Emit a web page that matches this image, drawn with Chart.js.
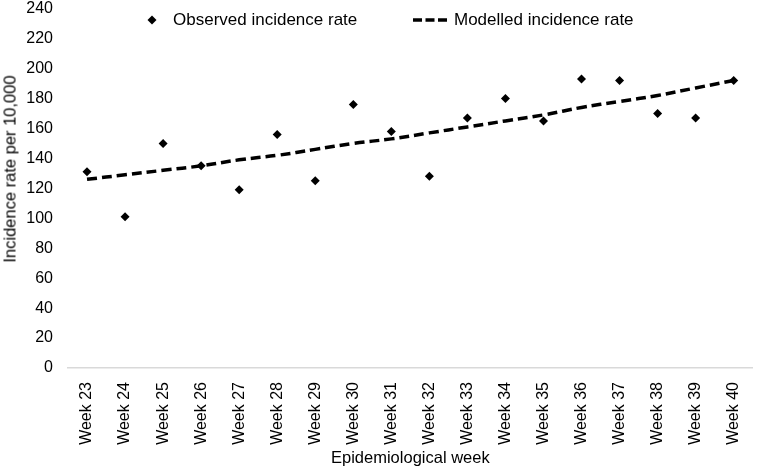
<!DOCTYPE html>
<html>
<head>
<meta charset="utf-8">
<script src="https://cdn.jsdelivr.net/npm/chart.js@4"></script>
<style>
  html, body { margin: 0; padding: 0; background: #fff; }
  #wrap { position: relative; width: 759px; height: 472px; overflow: hidden; }
  #c { position: absolute; left: 0; top: -8px; }
  #legend { position: absolute; top: 9px; left: 0; width: 759px; height: 22px;
    font-family: "Liberation Sans", Arial, sans-serif; font-size: 17px; color: #000; }
  .item { position: absolute; top: 0; display: flex; align-items: center; height: 22px; white-space: nowrap; }
  #ytitle { position: absolute; left: 10px; top: 169px; transform: translate(-50%, -50%) rotate(-90deg);
    font-family: "Liberation Sans", Arial, sans-serif; font-size: 16.5px; color: #000; white-space: nowrap; }
</style>
</head>
<body>
<div id="wrap">
  <canvas id="c" width="759" height="480"></canvas>
  <div id="legend">
    <div class="item" style="left:146px;">
      <svg width="12" height="12" style="margin-right:15px"><polygon points="6,1.5 10.5,6 6,10.5 1.5,6" fill="#000"/></svg>
      <span id="lg1"></span>
    </div>
    <div class="item" style="left:412px;">
      <svg width="36" height="10" style="margin-right:6px"><line x1="1" y1="5" x2="35" y2="5" stroke="#000" stroke-width="3.5" stroke-dasharray="9,3.5"/></svg>
      <span id="lg2"></span>
    </div>
  </div>
  <div id="ytitle"></div>
</div>
<script>
const weeks = ["Week 23","Week 24","Week 25","Week 26","Week 27","Week 28","Week 29","Week 30","Week 31","Week 32","Week 33","Week 34","Week 35","Week 36","Week 37","Week 38","Week 39","Week 40"];
const observed = [131, 101, 150, 135, 119, 156, 125, 176, 158, 128, 167, 180, 165, 193, 192, 170, 167, 192];
const modelled = [126, 129, 132, 135, 139, 142, 146, 150, 153, 157, 161, 165, 169, 174, 178, 182, 187, 192];
const yTicks = { min: 0, max: 240, step: 20 };
const yTitle = "Incidence rate per 10,000";
const xTitle = "Epidemiological week";
const seriesNames = ["Observed incidence rate", "Modelled incidence rate"];

document.getElementById('lg1').textContent = seriesNames[0];
document.getElementById('lg2').textContent = seriesNames[1];
document.getElementById('ytitle').textContent = yTitle;

const FONT = "'Liberation Sans', Arial, sans-serif";
Chart.defaults.font.family = FONT;
Chart.defaults.font.size = 16;
Chart.defaults.color = '#000';

new Chart(document.getElementById('c'), {
  type: 'line',
  data: {
    labels: weeks,
    datasets: [
      {
        label: seriesNames[0],
        data: observed,
        showLine: false,
        pointStyle: 'rectRot',
        pointRadius: 4.5,
        pointBackgroundColor: '#000',
        pointBorderColor: '#000',
        pointBorderWidth: 0,
        order: 1
      },
      {
        label: seriesNames[1],
        data: modelled,
        borderColor: '#000',
        borderWidth: 3.5,
        borderDash: [10, 5],
        pointRadius: 0,
        fill: false,
        tension: 0.4,
        order: 2
      }
    ]
  },
  options: {
    responsive: false,
    animation: false,
    layout: { padding: { top: 0, right: 1, left: 0, bottom: 4 } },
    plugins: {
      legend: { display: false },
      tooltip: { enabled: false }
    },
    scales: {
      x: {
        offset: true,
        grid: { display: false },
        border: { display: true, color: '#d9d9d9', width: 1.5 },
        ticks: { minRotation: 90, maxRotation: 90, autoSkip: false, padding: 6, color: '#000' },
        title: { display: true, text: xTitle, padding: { top: 4, bottom: 0 }, color: '#000', font: { size: 16.5 } },
        afterFit: (s) => { s.height = 100; }
      },
      y: {
        min: yTicks.min,
        max: yTicks.max,
        ticks: { stepSize: yTicks.step, padding: 7, color: '#000' },
        grid: { display: false },
        border: { display: false },
        title: { display: false },
        afterFit: (s) => { s.width = 68; }
      }
    }
  }
});
</script>
</body>
</html>
